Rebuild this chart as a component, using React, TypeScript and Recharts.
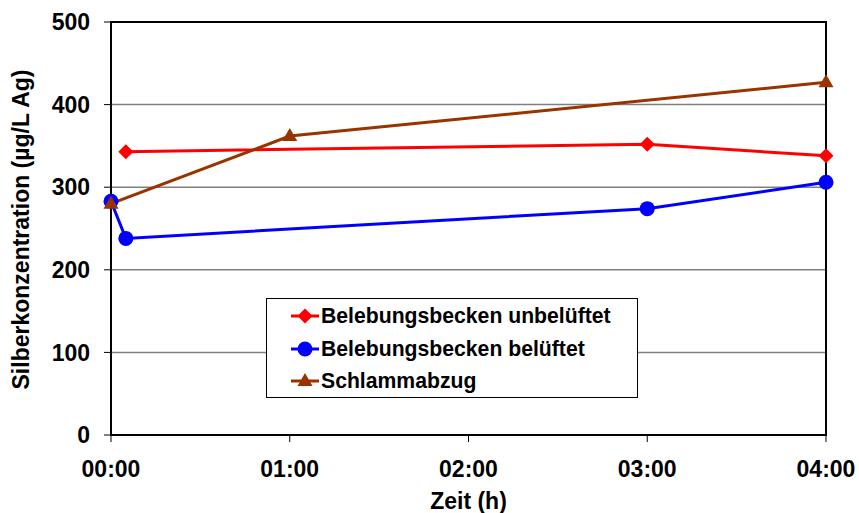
import React from 'react';
import { LineChart, Line, XAxis, YAxis, CartesianGrid, Legend, ReferenceArea } from 'recharts';

// Time in hours
const unbelueftetX = [0.083, 3, 4];
const unbelueftetY = [343, 352, 338];

const belueftetX = [0, 0.083, 3, 4];
const belueftetY = [283, 238, 274, 306];

const schlammX = [0, 1, 4];
const schlammY = [280, 362, 427];

const xTicks = [0, 1, 2, 3, 4];
const xTickLabels = ['00:00', '01:00', '02:00', '03:00', '04:00'];
const yTicks = [0, 100, 200, 300, 400, 500];

const seriesNames = ['Belebungsbecken unbelüftet', 'Belebungsbecken belüftet', 'Schlammabzug'];
const seriesColors = ['#FF0000', '#0000FF', '#993300'];

const toRows = (xs: number[], ys: number[]) => xs.map((x, i) => ({ t: x, v: ys[i] }));

const FONT = '"Liberation Sans", Arial, sans-serif';

const Diamond = (props: any) => {
  const { cx, cy, fill } = props;
  if (cx == null || cy == null) return null;
  const r = 7.5;
  return <polygon points={`${cx},${cy - r} ${cx + r},${cy} ${cx},${cy + r} ${cx - r},${cy}`} fill={fill} />;
};
const Circle = (props: any) => {
  const { cx, cy, fill } = props;
  if (cx == null || cy == null) return null;
  return <circle cx={cx} cy={cy} r={7.5} fill={fill} />;
};
const Triangle = (props: any) => {
  const { cx, cy, fill } = props;
  if (cx == null || cy == null) return null;
  return <polygon points={`${cx},${cy - 8} ${cx + 7.5},${cy + 5} ${cx - 7.5},${cy + 5}`} fill={fill} />;
};

const markers = [Diamond, Circle, Triangle];

const renderLegend = () => (
  <div
    style={{
      width: '100%',
      height: '100%',
      boxSizing: 'border-box',
      border: '1.5px solid #000',
      background: '#fff',
      paddingTop: 1,
      paddingLeft: 23,
      fontFamily: FONT,
      fontWeight: 'bold',
      fontSize: 21.2,
      color: '#000',
    }}
  >
    {seriesNames.map((name, i) => {
      const M = markers[i];
      return (
        <div key={name} style={{ display: 'flex', alignItems: 'center', height: 32.5 }}>
          <svg width={30} height={18} style={{ display: 'block' }}>
            <line x1={1} y1={9} x2={29} y2={9} stroke={seriesColors[i]} strokeWidth={3} />
            <M cx={15} cy={9} fill={seriesColors[i]} />
          </svg>
          <span style={{ marginLeft: 1, lineHeight: '24px' }}>{name}</span>
        </div>
      );
    })}
  </div>
);

export default function App() {
  const tickStyle = { fontFamily: FONT, fontWeight: 'bold' as const, fontSize: 23, fill: '#000' };
  return (
    <div style={{ position: 'absolute', left: 0, top: 0, width: 859, height: 513, background: '#fff' }}>
      <LineChart width={859} height={513} margin={{ top: 22, right: 33, bottom: 0, left: 0 }}>
        <CartesianGrid vertical={false} stroke="#808080" strokeWidth={1.5} />
        <XAxis
          type="number"
          dataKey="t"
          domain={[0, 4]}
          ticks={xTicks}
          allowDuplicatedCategory={false}
          tickFormatter={(v: number) => xTickLabels[xTicks.indexOf(v)]}
          height={78}
          tickSize={7}
          tickMargin={19}
          axisLine={{ stroke: '#000', strokeWidth: 2 }}
          tickLine={{ stroke: '#000', strokeWidth: 1 }}
          tick={tickStyle}
          label={{
            value: 'Zeit (h)',
            position: 'insideBottom',
            offset: 4,
            style: { fontFamily: FONT, fontWeight: 'bold', fontSize: 23, fill: '#000' },
          }}
        />
        <YAxis
          type="number"
          domain={[0, 500]}
          ticks={yTicks}
          width={111}
          tickSize={7}
          tickMargin={14}
          axisLine={{ stroke: '#000', strokeWidth: 2 }}
          tickLine={{ stroke: '#000', strokeWidth: 1 }}
          tick={tickStyle}
          label={{
            value: 'Silberkonzentration (µg/L Ag)',
            angle: -90,
            position: 'insideLeft',
            content: () => {
              const cx = 21;
              const cy = 229.5;
              return (
                <text
                  x={cx}
                  y={cy}
                  transform={`rotate(-90 ${cx} ${cy})`}
                  textAnchor="middle"
                  dominantBaseline="central"
                  style={{ fontFamily: FONT, fontWeight: 'bold', fontSize: 23, fill: '#000' }}
                >
                  Silberkonzentration (µg/L Ag)
                </text>
              );
            },
          }}
        />
        <ReferenceArea x1={0} x2={4} y1={0} y2={500} fill="none" stroke="#000" strokeWidth={2} fillOpacity={0} ifOverflow="visible" />
        <Line
          data={toRows(unbelueftetX, unbelueftetY)}
          dataKey="v"
          name={seriesNames[0]}
          stroke={seriesColors[0]}
          strokeWidth={3}
          dot={<Diamond fill={seriesColors[0]} />}
          isAnimationActive={false}
        />
        <Line
          data={toRows(belueftetX, belueftetY)}
          dataKey="v"
          name={seriesNames[1]}
          stroke={seriesColors[1]}
          strokeWidth={3}
          dot={<Circle fill={seriesColors[1]} />}
          isAnimationActive={false}
        />
        <Line
          data={toRows(schlammX, schlammY)}
          dataKey="v"
          name={seriesNames[2]}
          stroke={seriesColors[2]}
          strokeWidth={3}
          dot={<Triangle fill={seriesColors[2]} />}
          isAnimationActive={false}
        />
        <Legend
          layout="vertical"
          align="center"
          verticalAlign="middle"
          content={renderLegend}
          wrapperStyle={{ position: 'absolute', left: 266, top: 298, width: 372, height: 100 }}
        />
      </LineChart>
    </div>
  );
}
